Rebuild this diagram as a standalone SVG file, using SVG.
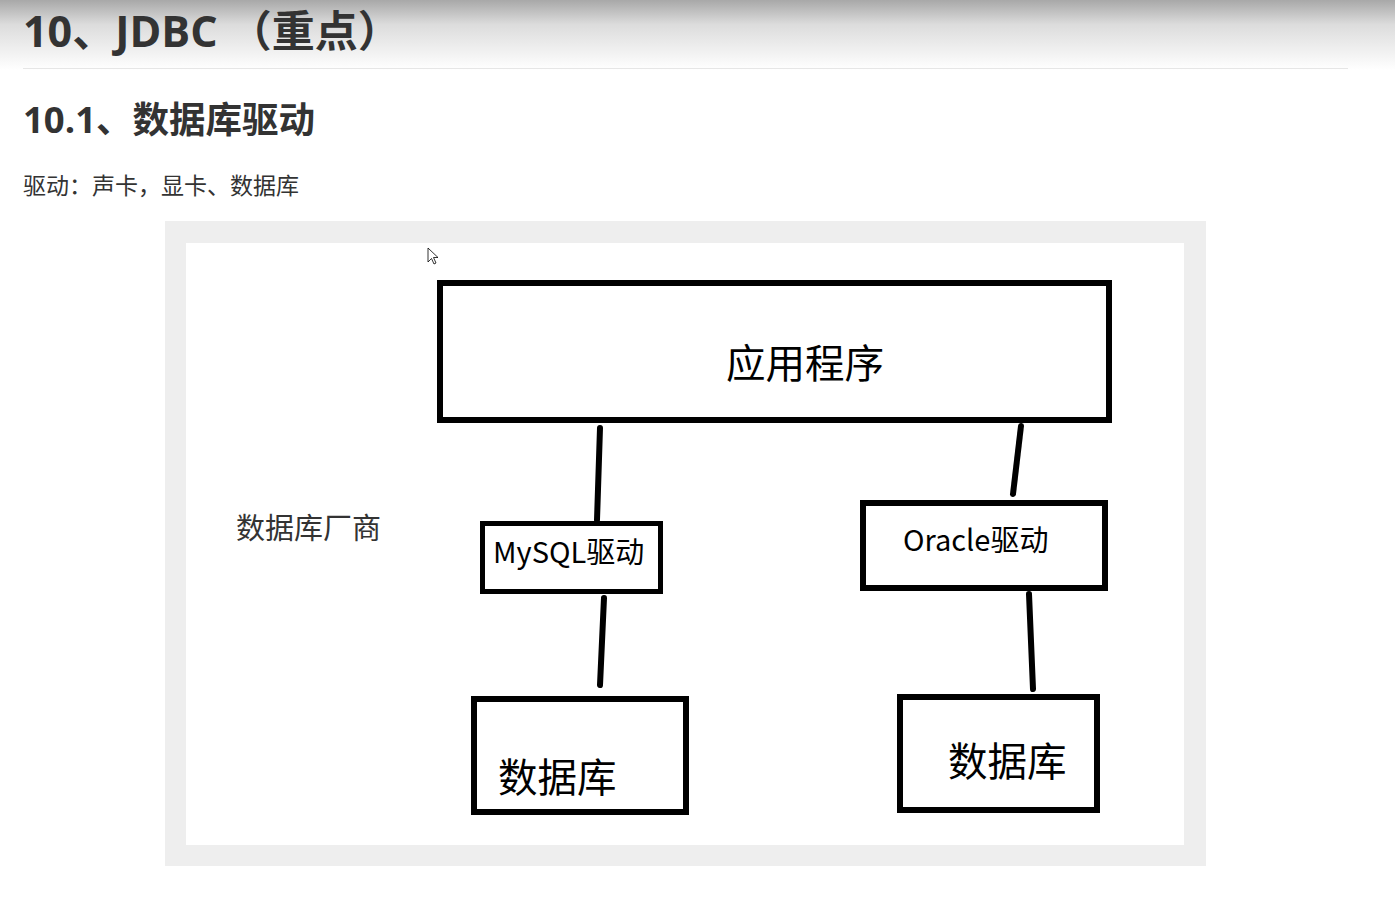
<svg xmlns="http://www.w3.org/2000/svg" width="1395" height="905" viewBox="0 0 1395 905">
<defs>
<linearGradient id="hdr" x1="0" y1="0" x2="0" y2="1">
<stop offset="0" stop-color="#a8a8a8"/>
<stop offset="0.35" stop-color="#dcdcdc"/>
<stop offset="1" stop-color="#ffffff"/>
</linearGradient>
<style>
.h{font-family:"Open Sans","Noto Sans CJK SC",sans-serif;font-weight:bold;fill:#333}
.p{font-family:"Open Sans","Noto Sans CJK SC",sans-serif;fill:#333}
.box{fill:#fff;stroke:#000}
.t{font-family:"Noto Sans CJK SC","Noto Sans",sans-serif;fill:#000}
.conn line{stroke:#000;stroke-width:6;stroke-linecap:round}
</style>
</defs>
<rect width="1395" height="905" fill="#fff"/>
<rect x="0" y="0" width="1395" height="70" fill="url(#hdr)"/>
<line x1="23" y1="68.5" x2="1348" y2="68.5" stroke="#e6e6e6" stroke-width="1"/>
<text class="h" x="23" y="47" font-size="43">10、JDBC （重点）</text>
<text class="h" x="23" y="133" font-size="36.5">10.1、数据库驱动</text>
<text class="p" x="23" y="194" font-size="23">驱动：声卡，显卡、数据库</text>
<rect x="165" y="221" width="1041" height="645" fill="#eeeeee"/>
<rect x="186" y="243" width="998" height="602" fill="#ffffff"/>
<path d="M428 248 L428 262 L431.5 258.5 L434 264 L436 263 L433.5 257.5 L438 257.5 Z" fill="#fff" stroke="#000" stroke-width="0.8"/>
<g class="conn">
<line x1="600" y1="428" x2="597" y2="520"/>
<line x1="1021" y1="426" x2="1013" y2="494"/>
<line x1="604" y1="598" x2="600" y2="685"/>
<line x1="1029" y1="594" x2="1033" y2="689"/>
</g>
<g id="app">
<rect class="box" x="440" y="283" width="669" height="137" stroke-width="6"/>
<text class="t" x="805" y="378" font-size="39.5" text-anchor="middle">应用程序</text>
</g>
<g id="vendor">
<text class="t" x="236" y="539" font-size="29" style="fill:#333">数据库厂商</text>
</g>
<g id="mysql">
<rect class="box" x="482.5" y="523.5" width="178" height="68" stroke-width="5"/>
<text class="t" x="493" y="563" font-size="29">MySQL驱动</text>
</g>
<g id="oracle">
<rect class="box" x="863" y="503" width="242" height="85" stroke-width="6"/>
<text class="t" x="903" y="551" font-size="29">Oracle驱动</text>
</g>
<g id="db1">
<rect class="box" x="474" y="699" width="212" height="113" stroke-width="6"/>
<text class="t" x="498" y="792" font-size="39.5">数据库</text>
</g>
<g id="db2">
<rect class="box" x="900" y="697" width="197" height="113" stroke-width="6"/>
<text class="t" x="948" y="776" font-size="39.5">数据库</text>
</g>
</svg>
